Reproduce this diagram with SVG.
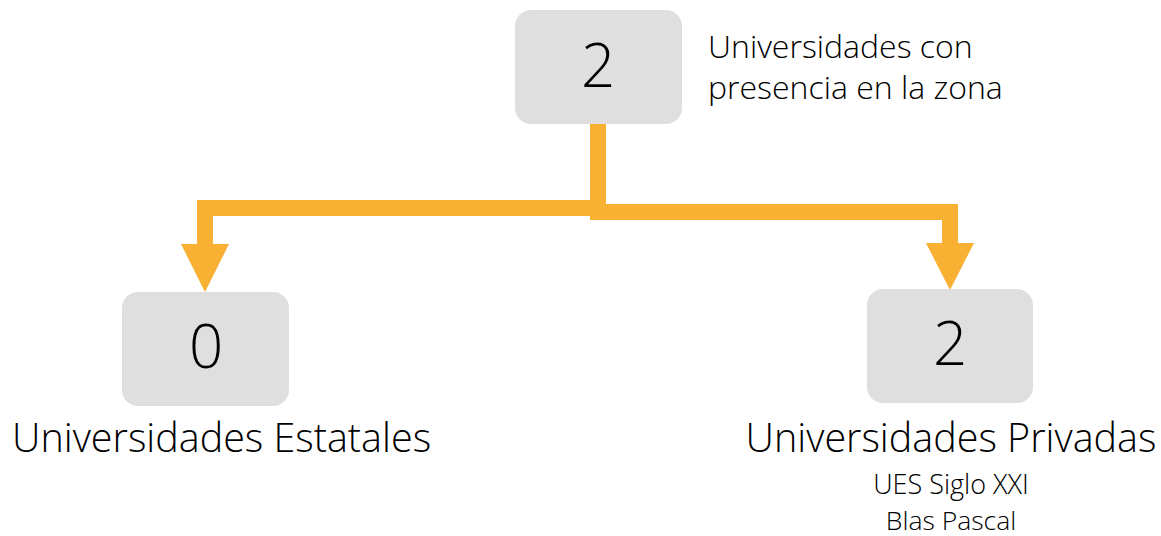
<svg xmlns="http://www.w3.org/2000/svg" width="1161" height="536" viewBox="0 0 1161 536">
<style>
.box{fill:#dfdfdf}
.num{font-family:"Open Sans","Liberation Sans",sans-serif;font-weight:300;font-size:60px;fill:#000;text-anchor:middle}
.lbl{font-family:"Open Sans","Liberation Sans",sans-serif;font-weight:300;fill:#000}
.conn{fill:none;stroke:#f8b133;stroke-width:16}
.head{fill:#f8b133}
</style>
<rect width="1161" height="536" fill="#fff"/>
<g id="connectors">
<path class="conn" d="M598 124 V208 H205 V246"/>
<polygon class="head" points="181,244 229,244 205,292"/>
<path class="conn" d="M598 124 V212 H950 V245"/>
<polygon class="head" points="926,243 974,243 950,290"/>
</g>
<g id="node-total">
<rect class="box" x="515" y="10" width="167" height="114" rx="16"/>
<text class="num" x="598" y="87">2</text>
<text class="lbl" x="708" y="58" font-size="32">Universidades con</text>
<text class="lbl" x="708" y="99" font-size="32">presencia en la zona</text>
</g>
<g id="node-estatales">
<rect class="box" x="122" y="292" width="167" height="114" rx="16"/>
<text class="num" x="206" y="368">0</text>
<text class="lbl" x="12" y="452" font-size="39.5">Universidades Estatales</text>
</g>
<g id="node-privadas">
<rect class="box" x="867" y="289" width="166" height="114" rx="16"/>
<text class="num" x="950" y="365">2</text>
<text class="lbl" x="951" y="452" font-size="39.5" text-anchor="middle">Universidades Privadas</text>
<text class="lbl" x="951" y="494" font-size="27" text-anchor="middle">UES Siglo XXI</text>
<text class="lbl" x="951" y="530" font-size="26.5" text-anchor="middle">Blas Pascal</text>
</g>
</svg>
